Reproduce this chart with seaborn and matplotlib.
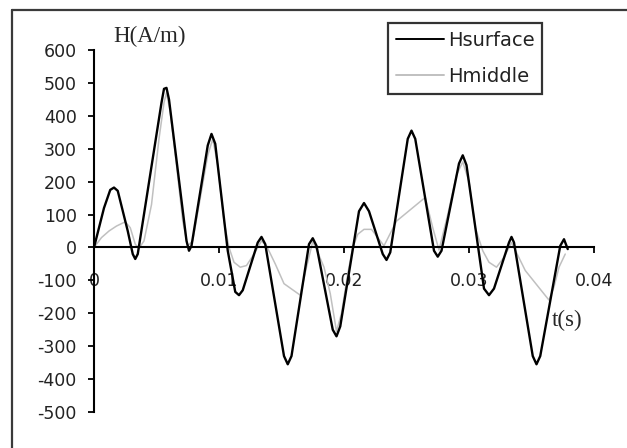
import pandas as pd
import matplotlib.pyplot as plt
import seaborn as sns
from matplotlib.lines import Line2D

# Dados
t_surface = [0.0, 0.0008, 0.0013, 0.0016, 0.0019, 0.0027, 0.0031, 0.0033, 0.0035,
             0.0054, 0.0056, 0.0058, 0.0060, 0.0074, 0.0076, 0.0078, 0.0091, 0.0094,
             0.0097, 0.0107, 0.0113, 0.0116, 0.0119, 0.0131, 0.0134, 0.0137, 0.0152,
             0.0155, 0.0158, 0.0172, 0.0175, 0.0178, 0.0191, 0.0194, 0.0197, 0.0212,
             0.0216, 0.0220, 0.0231, 0.0234, 0.0237, 0.0251, 0.0254, 0.0257, 0.0272,
             0.0275, 0.0278, 0.0292, 0.0295, 0.0298, 0.0312, 0.0316, 0.0320, 0.0332,
             0.0334, 0.0336, 0.0351, 0.0354, 0.0357, 0.0373, 0.0376, 0.0379]
h_surface = [0, 120, 175, 182, 172, 50, -20, -35, -20,
             440, 482, 485, 450, 20, -10, 5, 310, 345,
             315, -10, -135, -145, -130, 15, 32, 10, -330,
             -355, -330, 10, 28, 5, -250, -270, -240, 110,
             135, 110, -20, -38, -15, 330, 355, 330, -10,
             -28, -10, 255, 280, 250, -125, -145, -125, 15,
             32, 15, -330, -355, -330, 5, 25, -5]

t_middle = [0.0, 0.0006, 0.0012, 0.0018, 0.0025, 0.0029, 0.0033, 0.0036, 0.0040,
            0.0046, 0.0052, 0.0056, 0.0058, 0.0061, 0.0066, 0.0071, 0.0075, 0.0079,
            0.0085, 0.0091, 0.0095, 0.0099, 0.0104, 0.0108, 0.0112, 0.0117, 0.0122,
            0.0128, 0.0134, 0.0138, 0.0145, 0.0152, 0.0165, 0.0170, 0.0175, 0.0179,
            0.0184, 0.0189, 0.0194, 0.0198, 0.0203, 0.0207, 0.0211, 0.0216, 0.0222,
            0.0227, 0.0232, 0.0242, 0.0265, 0.0271, 0.0276, 0.0283, 0.0290, 0.0295,
            0.0300, 0.0305, 0.0311, 0.0316, 0.0322, 0.0328, 0.0334, 0.0345, 0.0364,
            0.0368, 0.0372, 0.0377]
h_middle = [0, 30, 50, 65, 78, 60, 10, -3, 20,
            130, 330, 440, 470, 411, 250, 80, 5, 20,
            150, 280, 330, 250, 80, 0, -45, -60, -55,
            -20, 20, 5, -50, -110, -145, -60, 18, -15,
            -60, -140, -255, -200, -80, 0, 40, 55, 55,
            30, 5, 80, 152, 60, -8, 100, 220, 260,
            200, 60, -10, -45, -60, -30, 15, -70, -160,
            -120, -60, -20]

series_names = ["Hsurface", "Hmiddle"]
series_colors = ["#000000", "#c0c0c0"]
x_ticks = [0, 0.01, 0.02, 0.03, 0.04]
x_ticklabels = ["0", "0.01", "0.02", "0.03", "0.04"]
y_ticks = list(range(-500, 601, 100))

df = pd.concat([
    pd.DataFrame({"t": t_surface, "H": h_surface, "serie": series_names[0]}),
    pd.DataFrame({"t": t_middle, "H": h_middle, "serie": series_names[1]}),
], ignore_index=True)

sns.set_style("white")
plt.rcParams['font.family'] = ['DejaVu Sans']
plt.rcParams['axes.unicode_minus'] = False

W, H = 627, 448
fig = plt.figure(figsize=(W / 100, H / 100), dpi=100)
ax = fig.add_axes([94 / W, 1 - 412 / H, 500 / W, 362 / H])

# Moldura externa (estilo Excel): só as bordas esquerda e superior aparecem
y_top = 1 - 10 / H
x_left = 12 / W
fig.add_artist(Line2D([x_left, x_left], [0, y_top], transform=fig.transFigure,
                      color='#3a3a3a', linewidth=1.6))
fig.add_artist(Line2D([x_left, 1], [y_top, y_top], transform=fig.transFigure,
                      color='#3a3a3a', linewidth=1.6))

for nome, cor, lw in zip(series_names[::-1], series_colors[::-1], [1.1, 1.7]):
    sns.lineplot(data=df[df['serie'] == nome], x='t', y='H', sort=False,
                 estimator=None, color=cor, linewidth=lw, ax=ax, label=nome)

ax.set_xlim(0, 0.04)
ax.set_ylim(-500, 600)
ax.set_xticks(x_ticks)
ax.set_xticklabels(x_ticklabels)
ax.set_yticks(y_ticks)
ax.set_xlabel("")
ax.set_ylabel("")

ax.spines['top'].set_visible(False)
ax.spines['right'].set_visible(False)
ax.spines['bottom'].set_position(('data', 0))
for s in ['left', 'bottom']:
    ax.spines[s].set_color('black')
    ax.spines[s].set_linewidth(1.5)
ax.tick_params(axis='y', direction='out', length=4.5, width=1.3, pad=8,
               labelsize=12.5, colors='black', left=True)
ax.tick_params(axis='x', direction='out', length=4.5, width=1.3, pad=13,
               labelsize=12.5, colors='black', bottom=True)
for lab in ax.get_xticklabels() + ax.get_yticklabels():
    lab.set_color('#222222')

# Legenda
handles, labels = ax.get_legend_handles_labels()
order = [labels.index(n) for n in series_names]
leg = ax.legend([handles[i] for i in order], [labels[i] for i in order],
                loc='upper left', bbox_to_anchor=(388 / W, 1 - 23 / H),
                bbox_transform=fig.transFigure, borderaxespad=0,
                frameon=True, fancybox=False, edgecolor='black',
                handlelength=2.45, handletextpad=0.2, labelspacing=0.85,
                borderpad=0.42, fontsize=14)
leg.get_frame().set_linewidth(1.6)
leg.get_frame().set_boxstyle('square', pad=0)
for line in leg.get_lines():
    line.set_linewidth(1.4)
for txt in leg.get_texts():
    txt.set_color('#222222')

fig.text(150 / W, 1 - 36 / H, "H(A/m)", family=['Liberation Serif', 'DejaVu Serif'],
         fontsize=16.5, ha='center', va='center')
fig.text(552 / W, 1 - 320 / H, "t(s)", family=['Liberation Serif', 'DejaVu Serif'],
         fontsize=16.5, ha='left', va='center')

fig.savefig("out.png", dpi=100)
